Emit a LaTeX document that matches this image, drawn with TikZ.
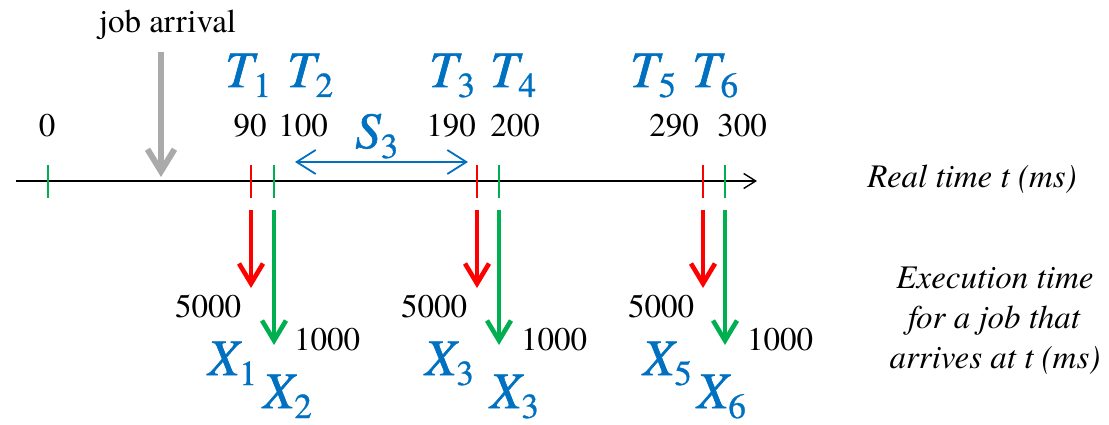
\documentclass[tikz,border=0pt]{standalone}
\usepackage{fontspec}
\IfFontExistsTF{texgyretermes-regular.otf}{%
    \setmainfont{texgyretermes-regular.otf}[ItalicFont=texgyretermes-italic.otf, BoldFont=texgyretermes-bold.otf]
    \newfontfamily\mfont{texgyretermes-italic.otf}[FakeBold=1.2]
    \newfontfamily\dfont{texgyretermes-regular.otf}[FakeBold=0.8]}{%
    \newcommand\mfont{\itshape}\newcommand\dfont{\upshape}}
\usetikzlibrary{arrows.meta}
\definecolor{mblue}{HTML}{0070C0}
\definecolor{mred}{HTML}{FF0000}
\definecolor{mgreen}{HTML}{00B050}
\definecolor{mgray}{HTML}{AAAAAA}
\newcommand\mlab[2]{{\mfont\fontsize{51}{51}\selectfont #1}\raisebox{-10pt}{\dfont\fontsize{35}{35}\selectfont #2}}
\tikzset{
  txt/.style={inner sep=0pt, anchor=base, font=\fontsize{33}{33}\selectfont},
  itxt/.style={inner sep=0pt, anchor=base, font=\fontsize{33}{33}\selectfont\itshape},
  mlbl/.style={inner sep=0pt, anchor=base west, text=mblue},
  tickmark/.style={line width=1.3pt},
  bigarrow/.style={line width=4.6pt, -{Straight Barb[length=20pt,width=24pt]}},
}
\begin{document}
\begin{tikzpicture}[x=1pt,y=-1pt]
\useasboundingbox (0,0) rectangle (1109,425);

% axis
\coordinate (ax0) at (16,181);
\coordinate (ax1) at (757,181);
\draw[line width=1.4pt, -{Straight Barb[length=12pt,width=15pt]}] (ax0) -- (ax1);

% ticks
\foreach \x/\c/\n in {48/mgreen/t0, 251/mred/t1, 274/mgreen/t2, 477/mred/t3, 499/mgreen/t4, 703/mred/t5, 725/mgreen/t6}{
  \coordinate (\n a) at (\x,165);
  \coordinate (\n b) at (\x,198);
  \draw[tickmark, \c] (\n a) -- (\n b);
}

% job arrival
\node[txt] (ja) at (167.5,33) {job arrival};
\coordinate (ga1) at (161,52);
\coordinate (ga2) at (161,177);
\draw[mgray, line width=6pt, -{Straight Barb[length=22pt,width=27pt]}] (ga1) -- (ga2);

% numbers
\node[txt] (n0) at (47,137) {0};
\node[txt] (n90) at (250,137) {90};
\node[txt] (n100) at (303,137) {100};
\node[txt] (n190) at (451,137) {190};
\node[txt] (n200) at (515,137) {200};
\node[txt] (n290) at (674,137) {290};
\node[txt] (n300) at (742,137) {300};

% T labels
\node[mlbl] (T1) at (225,87) {\mlab{T}{1}};
\node[mlbl] (T2) at (287,87) {\mlab{T}{2}};
\node[mlbl] (T3) at (429,87) {\mlab{T}{3}};
\node[mlbl] (T4) at (490,87) {\mlab{T}{4}};
\node[mlbl] (T5) at (630,87) {\mlab{T}{5}};
\node[mlbl] (T6) at (692,87) {\mlab{T}{6}};

% S3
\node[mlbl] (S3) at (355,148) {\mlab{S}{3}};
\coordinate (s3a) at (295,162);
\coordinate (s3b) at (468,162);
\draw[mblue, line width=1.8pt, {Straight Barb[length=19pt,width=24pt]}-{Straight Barb[length=19pt,width=24pt]}] (s3a) -- (s3b);

% execution arrows
\foreach \x/\c/\e/\n in {251/mred/288/r1, 274/mgreen/345/g1, 477/mred/288/r2, 499/mgreen/345/g2, 703/mred/288/r3, 725/mgreen/345/g3}{
  \coordinate (\n a) at (\x,210);
  \coordinate (\n b) at (\x,\e);
  \draw[bigarrow, \c] (\n a) -- (\n b);
}

% values
\node[txt] (v1) at (208,317) {5000};
\node[txt] (v2) at (434,317) {5000};
\node[txt] (v3) at (661,317) {5000};
\node[txt] (w1) at (327,350) {1000};
\node[txt] (w2) at (554,350) {1000};
\node[txt] (w3) at (780,350) {1000};

% X labels
\node[mlbl] (X1) at (208,375) {\mlab{X}{1}};
\node[mlbl] (X2) at (263,408) {\mlab{X}{2}};
\node[mlbl] (X3) at (425,375) {\mlab{X}{3}};
\node[mlbl] (X3b) at (490,408) {\mlab{X}{3}};
\node[mlbl] (X5) at (643,375) {\mlab{X}{5}};
\node[mlbl] (X6) at (697,408) {\mlab{X}{6}};

% right texts
\node[itxt] (rt) at (972,187) {Real time t (ms)};
\node[itxt] (e1) at (995,288) {Execution time};
\node[itxt] (e2) at (994,328) {for a job that};
\node[itxt] (e3) at (995,368) {arrives at t (ms)};
\end{tikzpicture}
\end{document}
